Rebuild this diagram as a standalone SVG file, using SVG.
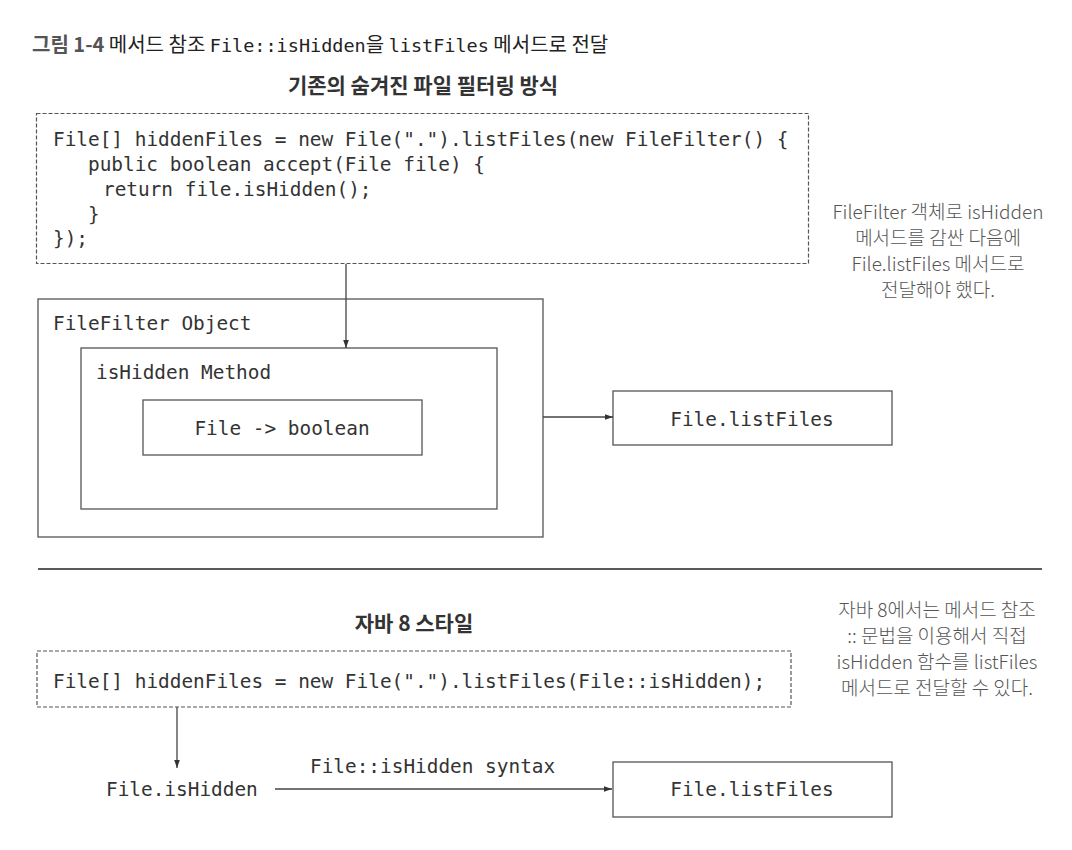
<svg xmlns="http://www.w3.org/2000/svg" width="1072" height="850" viewBox="0 0 1072 850">
<style>
.bg{fill:#ffffff}
.box{fill:#ffffff;stroke:#555555;stroke-width:1.3}
.dash{fill:#ffffff;stroke:#555555;stroke-width:1.2;stroke-dasharray:4 2}
.code{font-family:"DejaVu Sans Mono","Liberation Mono",monospace;font-size:19.4px;fill:#333333}
.head{font-family:"Noto Sans CJK KR","Noto Sans",sans-serif;font-weight:700;font-size:21px;fill:#333333;text-anchor:middle}
.note{font-family:"Noto Sans CJK KR","Noto Sans",sans-serif;font-weight:300;font-size:19px;fill:#555555;text-anchor:middle}
.title{font-family:"Noto Sans CJK KR","Noto Sans",sans-serif;font-size:20px;fill:#222222}
.tmono{font-family:"DejaVu Sans Mono","Liberation Mono",monospace;font-size:18.5px}
.conn{stroke:#444444;stroke-width:1.3;fill:none}
.mid{text-anchor:middle}
</style>
<defs>
<marker id="arr" viewBox="0 0 10 10" refX="10" refY="5" markerWidth="8" markerHeight="8" markerUnits="userSpaceOnUse" orient="auto">
<path d="M0,1.5 L10,5 L0,8.5 Z" fill="#333333"/>
</marker>
</defs>
<rect class="bg" x="0" y="0" width="1072" height="850"/>

<g id="title">
<text class="title" x="32" y="52"><tspan font-weight="700" fill="#555555">그림 1-4</tspan> 메서드 참조 <tspan class="tmono">File::isHidden</tspan>을 <tspan class="tmono">listFiles</tspan> 메서드로 전달</text>
</g>

<g id="heading-old">
<text class="head" x="423" y="93">기존의 숨겨진 파일 필터링 방식</text>
</g>

<g id="code-old">
<rect class="dash" x="36.5" y="113.5" width="772" height="150"/>
<text class="code" x="53" y="146">File[] hiddenFiles = new File(".").listFiles(new FileFilter() {</text>
<text class="code" x="88" y="171">public boolean accept(File file) {</text>
<text class="code" x="103" y="196">return file.isHidden();</text>
<text class="code" x="88" y="221">}</text>
<text class="code" x="53" y="245">});</text>
</g>

<g id="note-old">
<text class="note" x="938" y="219">FileFilter 객체로 isHidden</text>
<text class="note" x="938" y="245">메서드를 감싼 다음에</text>
<text class="note" x="938" y="271">File.listFiles 메서드로</text>
<text class="note" x="938" y="297">전달해야 했다.</text>
</g>

<g id="filefilter-object">
<rect class="box" x="38" y="299" width="505" height="238"/>
<text class="code" x="53" y="330">FileFilter Object</text>
</g>

<g id="ishidden-method">
<rect class="box" x="81" y="348" width="416" height="161"/>
<text class="code" x="96" y="379">isHidden Method</text>
</g>

<g id="file-boolean">
<rect class="box" x="143" y="400" width="279" height="55"/>
<text class="code mid" x="282" y="435">File -&gt; boolean</text>
</g>

<g id="listfiles-old">
<rect class="box" x="613" y="391" width="279" height="54"/>
<text class="code mid" x="752" y="426">File.listFiles</text>
</g>

<g id="separator">
<line x1="38" y1="569" x2="1042" y2="569" stroke="#222222" stroke-width="1.5"/>
</g>

<g id="heading-new">
<text class="head" x="414" y="631">자바 8 스타일</text>
</g>

<g id="code-new">
<rect class="dash" x="37" y="651" width="754" height="56"/>
<text class="code" x="53" y="688">File[] hiddenFiles = new File(".").listFiles(File::isHidden);</text>
</g>

<g id="note-new">
<text class="note" x="937" y="617">자바 8에서는 메서드 참조</text>
<text class="note" x="937" y="643">:: 문법을 이용해서 직접</text>
<text class="note" x="937" y="669">isHidden 함수를 listFiles</text>
<text class="note" x="937" y="695">메서드로 전달할 수 있다.</text>
</g>

<g id="file-ishidden">
<text class="code" x="106" y="796">File.isHidden</text>
</g>

<g id="listfiles-new">
<rect class="box" x="613" y="762" width="279" height="55"/>
<text class="code mid" x="752" y="796">File.listFiles</text>
</g>

<g id="connectors">
<line class="conn" x1="346" y1="264" x2="346" y2="348" marker-end="url(#arr)"/>
<line class="conn" x1="543" y1="417" x2="613" y2="417" marker-end="url(#arr)"/>
<line class="conn" x1="177" y1="707" x2="177" y2="768" marker-end="url(#arr)"/>
<line class="conn" x1="275" y1="789" x2="612" y2="789" marker-end="url(#arr)"/>
<text class="code" x="310" y="773">File::isHidden syntax</text>
</g>
</svg>
